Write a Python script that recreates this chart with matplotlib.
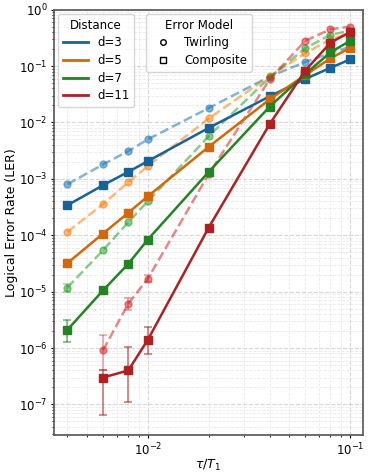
import matplotlib
matplotlib.use("Agg")
import matplotlib.pyplot as plt
import matplotlib.colors as mcolors
from matplotlib.lines import Line2D
from matplotlib.ticker import NullFormatter

# tau / T1 values
tau = [0.004, 0.006, 0.008, 0.01, 0.02, 0.04, 0.06, 0.08, 0.1]

distances = ["d=3", "d=5", "d=7", "d=11"]
base_colors = ["tab:blue", "tab:orange", "tab:green", "tab:red"]

# composite error model (solid, squares)
ler_comp_d3 = [3.4e-4, 7.7e-4, 1.33e-3, 2.06e-3, 8.0e-3, 0.029, 0.059, 0.093, 0.131]
ler_comp_d5 = [3.2e-5, 1.07e-4, 2.5e-4, 4.9e-4, 3.7e-3, 0.0256, 0.069, 0.137, 0.21]
ler_comp_d7 = [2.1e-6, 1.05e-5, 3.1e-5, 8.4e-5, 1.33e-3, 0.019, 0.072, 0.175, 0.28]
ler_comp_d11 = [None, 3.0e-7, 4.0e-7, 1.4e-6, 1.37e-4, 9.3e-3, 0.083, 0.26, 0.40]

# twirling error model (dashed, circles)
ler_twirl_d3 = [8.0e-4, 1.8e-3, 3.1e-3, 5.0e-3, 0.018, 0.065, 0.118, 0.17, 0.22]
ler_twirl_d5 = [1.15e-4, 3.55e-4, 8.7e-4, 1.68e-3, 0.0118, 0.066, 0.168, 0.30, 0.38]
ler_twirl_d7 = [1.18e-5, 5.4e-5, 1.7e-4, 4.0e-4, 5.7e-3, 0.063, 0.206, 0.36, 0.42]
ler_twirl_d11 = [None, 9.1e-7, 6.1e-6, 1.7e-5, 1.21e-3, 0.058, 0.28, 0.45, 0.50]

# error bar bounds (low, high); None = too small to see
bounds_comp_d7 = [(1.3e-6, 3.2e-6), (9.0e-6, 1.22e-5)] + [None] * 7
bounds_comp_d11 = [None, (6.4e-8, 4.1e-7), (1.1e-7, 1.04e-6), (7.7e-7, 2.4e-6)] + [None] * 5
bounds_twirl_d7 = [(1.0e-5, 1.38e-5)] + [None] * 8
bounds_twirl_d11 = [None, (4.1e-7, 1.73e-6), (4.7e-6, 7.6e-6), (1.5e-5, 1.95e-5)] + [None] * 5

comp = [ler_comp_d3, ler_comp_d5, ler_comp_d7, ler_comp_d11]
twirl = [ler_twirl_d3, ler_twirl_d5, ler_twirl_d7, ler_twirl_d11]
comp_bounds = [None, None, bounds_comp_d7, bounds_comp_d11]
twirl_bounds = [None, None, bounds_twirl_d7, bounds_twirl_d11]

# composite drawn in a darker shade of the base colour
dark_colors = [tuple(0.82 * v for v in mcolors.to_rgb(c)) for c in base_colors]


def draw(ax, ys, bounds, color, ls, marker, alpha, ms, ealpha):
    xs = [x for x, y in zip(tau, ys) if y is not None]
    vs = [y for y in ys if y is not None]
    if bounds is not None:
        ex, ey, lo, hi = [], [], [], []
        for x, y, b in zip(tau, ys, bounds):
            if y is None or b is None:
                continue
            ex.append(x)
            ey.append(y)
            lo.append(y - b[0])
            hi.append(b[1] - y)
        ax.errorbar(ex, ey, yerr=[lo, hi], fmt="none", ecolor=color,
                    alpha=ealpha, capsize=3, elinewidth=1.1, capthick=1.1,
                    zorder=2)
    ax.plot(xs, vs, ls=ls, marker=marker, color=color, alpha=alpha,
            lw=1.8, ms=ms, zorder=3)


fig = plt.figure(figsize=(3.69, 4.73), dpi=100)
ax = fig.add_axes([0.146, 0.080, 0.838, 0.8996])

for c, ys, b in zip(base_colors, twirl, twirl_bounds):
    draw(ax, ys, b, c, "--", "o", 0.55, 5, 0.45)
for c, ys, b in zip(dark_colors, comp, comp_bounds):
    draw(ax, ys, b, c, "-", "s", 1.0, 5.5, 0.65)

ax.set_xscale("log")
ax.set_yscale("log")
ax.set_xlim(0.00343, 0.116)
ax.set_ylim(2.85e-8, 1.0)
ax.xaxis.set_minor_formatter(NullFormatter())
ax.yaxis.set_minor_formatter(NullFormatter())
ax.grid(True, which="major", ls="--", color="#cccccc", lw=0.8, alpha=0.8)
ax.grid(True, which="minor", ls="--", color="#dddddd", lw=0.6, alpha=0.6)
ax.set_axisbelow(True)
for s in ax.spines.values():
    s.set_color("#555555")
    s.set_linewidth(1.2)
ax.tick_params(labelsize=8.5, length=2.5, pad=2)
ax.tick_params(which="minor", length=1.5)

ax.set_xlabel(r"$\tau/T_1$", fontsize=9, labelpad=0)
ax.set_ylabel("Logical Error Rate (LER)", fontsize=9, labelpad=1)

dist_handles = [Line2D([], [], color=c, lw=2) for c in dark_colors]
leg1 = ax.legend(dist_handles, distances, title="Distance", loc="upper left",
                 fontsize=8.5, title_fontsize=8.5, handlelength=2.1,
                 labelspacing=0.4, borderaxespad=0.35)
ax.add_artist(leg1)
model_handles = [
    Line2D([], [], ls="none", marker="o", mfc="white", mec="black", ms=4),
    Line2D([], [], ls="none", marker="s", mfc="white", mec="black", ms=4),
]
ax.legend(model_handles, ["Twirling", "Composite"], title="Error Model",
          loc="upper left", bbox_to_anchor=(0.285, 1.0), fontsize=8.5,
          title_fontsize=8.5, labelspacing=0.4, borderaxespad=0.35)

fig.savefig("out.png", dpi=100)
